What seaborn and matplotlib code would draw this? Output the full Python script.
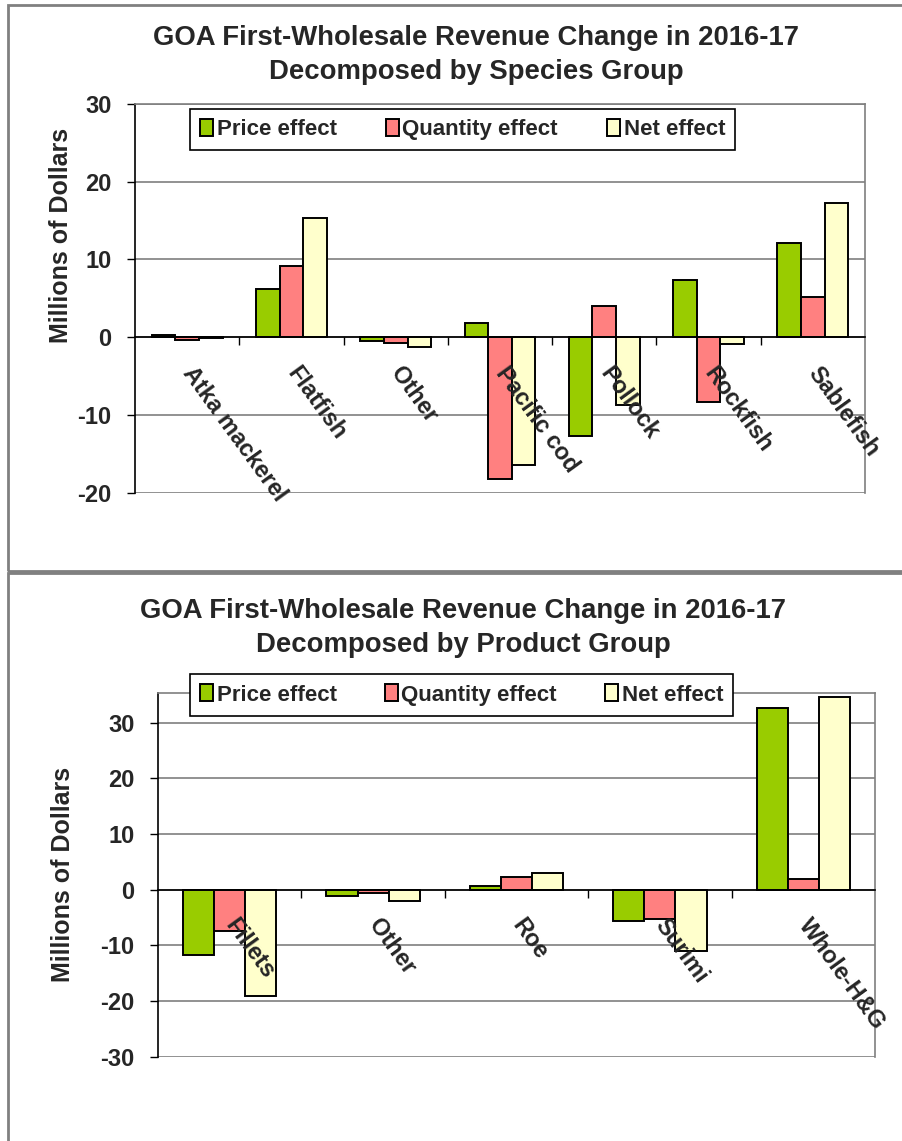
import matplotlib
matplotlib.use('Agg')
import matplotlib.pyplot as plt
import matplotlib.patches as mpatches
import pandas as pd
import seaborn as sns

sns.set_theme(style='white')
plt.rcParams['font.family'] = ['Liberation Sans', 'DejaVu Sans']
plt.rcParams['font.weight'] = 'bold'
plt.rcParams['axes.unicode_minus'] = False

# data (millions of dollars)
effects = ['Price effect', 'Quantity effect', 'Net effect']
colors = ['#99CC00', '#FF8080', '#FFFFCC']

species = ['Atka mackerel', 'Flatfish', 'Other', 'Pacific cod', 'Pollock',
           'Rockfish', 'Sablefish']
species_price = [0.3, 6.2, -0.5, 1.8, -12.7, 7.4, 12.1]
species_quantity = [-0.3, 9.1, -0.8, -18.2, 4.0, -8.3, 5.2]
species_net = [-0.1, 15.4, -1.3, -16.4, -8.7, -0.9, 17.3]

products = ['Fillets', 'Other', 'Roe', 'Surimi', 'Whole-H&G']
product_price = [-11.7, -1.2, 0.6, -5.7, 32.6]
product_quantity = [-7.4, -0.6, 2.3, -5.3, 1.9]
product_net = [-19.1, -2.0, 3.0, -11.1, 34.6]


def long_table(groups, price, quantity, net):
    rows = []
    for name, vals in zip(effects, [price, quantity, net]):
        for g, v in zip(groups, vals):
            rows.append({'group': g, 'effect': name, 'value': v})
    return pd.DataFrame(rows)


def draw_panel(fig, rect, df, groups, ylim, yticks, bar_width, title,
               title_xy, legend_box, label_xy):
    ax = fig.add_axes(rect)
    sns.barplot(data=df, x='group', y='value', hue='effect', order=groups,
                hue_order=effects, palette=colors, width=bar_width, gap=0,
                edgecolor='black', linewidth=1.4, saturation=1, ax=ax)
    ax.set_ylim(*ylim)
    ax.set_xlim(-0.5, len(groups) - 0.5)
    ax.set_yticks(yticks)
    ax.yaxis.grid(True, color='#7f7f7f', linewidth=1.2)
    ax.set_axisbelow(True)
    # category labels sit on top of the bars
    ax.xaxis.set_zorder(3)
    ax.tick_params(axis='y', length=6, width=1, color='black', left=True,
                   labelsize=17, pad=11)
    for lab in ax.get_yticklabels():
        lab.set_fontweight('bold')
    # category axis crossing at zero, like the spreadsheet
    ax.spines['bottom'].set_position(('data', 0))
    ax.spines['bottom'].set_color('black')
    ax.spines['bottom'].set_linewidth(1.2)
    ax.spines['left'].set_color('black')
    ax.spines['left'].set_linewidth(1.2)
    for s in ['top', 'right']:
        ax.spines[s].set_color('#7f7f7f')
        ax.spines[s].set_linewidth(1.2)
    ax.set_xticks(range(len(groups)))
    ax.set_xticklabels(groups, rotation=-54, rotation_mode='anchor',
                       ha='left', va='center', fontsize=17, fontweight='bold')
    ax.tick_params(axis='x', length=0, pad=23)
    ax.set_xticks([i + 0.5 for i in range(len(groups) - 1)], minor=True)
    ax.tick_params(axis='x', which='minor', length=6, width=1,
                   color='black', bottom=True)
    ax.set_xlabel('')
    ax.set_ylabel('Millions of Dollars', fontsize=18, fontweight='bold')
    ax.yaxis.set_label_coords(*label_xy)
    leg = ax.legend(title=None, ncol=3, loc='center', mode='expand',
                    bbox_to_anchor=legend_box, bbox_transform=fig.transFigure,
                    frameon=True, fancybox=False, framealpha=1,
                    edgecolor='black', fontsize=16, handlelength=0.6,
                    handleheight=0.8, handletextpad=0.15, columnspacing=1.2,
                    borderpad=0.45, borderaxespad=0)
    leg.get_frame().set_linewidth(1.2)
    leg.set_zorder(4)
    for t in leg.get_texts():
        t.set_fontweight('bold')
    fig.text(title_xy[0], title_xy[1], title, ha='center', va='center',
             fontsize=19.8, fontweight='bold', linespacing=1.4)
    return ax


fig = plt.figure(figsize=(9.02, 11.41), dpi=100)

# panel frames
fig.patches.append(mpatches.Rectangle((8 / 902, 1 - 570.5 / 1141), 0.995, 566 / 1141,
                                      transform=fig.transFigure, fill=False,
                                      edgecolor='#808080', linewidth=2))
fig.patches.append(mpatches.Rectangle((8 / 902, -0.01), 0.995, 1 - 572.5 / 1141 + 0.01,
                                      transform=fig.transFigure, fill=False,
                                      edgecolor='#808080', linewidth=2))

top_df = long_table(species, species_price, species_quantity, species_net)
draw_panel(fig, [135 / 902, 1 - 492.7 / 1141, 730 / 902, 388.7 / 1141],
           top_df, species, (-20, 30), range(-20, 31, 10), 0.68,
           'GOA First-Wholesale Revenue Change in 2016-17\n'
           'Decomposed by Species Group', (476 / 902, 1 - 55 / 1141),
           (190 / 902, 1 - 149 / 1141, 545 / 902, 39 / 1141), (-0.085, 0.663))

bottom_df = long_table(products, product_price, product_quantity, product_net)
draw_panel(fig, [158 / 902, 1 - 1056.7 / 1141, 717 / 902, 363.7 / 1141],
           bottom_df, products, (-30, 35.3), range(-30, 31, 10), 0.65,
           'GOA First-Wholesale Revenue Change in 2016-17\n'
           'Decomposed by Product Group', (463 / 902, 1 - 628 / 1141),
           (190 / 902, 1 - 715 / 1141, 543 / 902, 40 / 1141), (-0.116, 0.5))

plt.savefig('out.png', dpi=100)
